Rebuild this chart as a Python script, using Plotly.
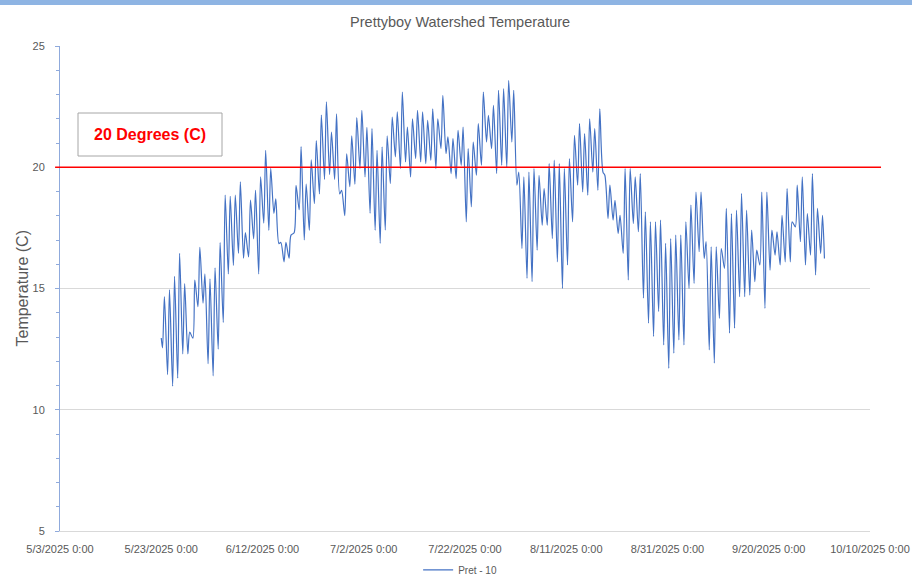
import pandas as pd
import plotly.graph_objects as go

# ---- data (daily minimum / maximum, deg C) ----
start_date = "2025-05-23"
first_value = 12.96
last_value = 16.24

daily_min = [
    12.55, 11.45, 10.97, 11.3, 12.3, 12.3, 12.95, 14.25, 14.4, 11.9,
    11.4, 12.5, 13.6, 15.6, 15.95, 16.45, 16.25, 16.3, 17.05, 15.6,
    17.7, 17.4, 18.1, 16.85, 16.1, 16.25, 17.3, 18.25, 17.0, 17.4,
    18.5, 18.9, 19.5, 19.7, 19.5, 18.9, 18.0, 19.2, 19.3, 19.95,
    19.6, 18.1, 17.4,
    16.86, 17.41, 19.33, 20.43, 19.95, 20.22, 19.6, 20.36, 20.22, 20.15,
    20.29, 19.95, 20.77, 20.56, 19.74, 19.53, 20.08, 17.75, 18.37, 19.67,
    20.08, 21.04, 20.77, 19.74, 20.08, 20.0, 21.04, 19.26, 16.65, 15.42,
    15.28, 16.58, 17.61, 17.61, 17.06, 16.1, 15.0, 15.97, 17.75, 19.26,
    18.98, 18.85, 19.8, 19.05,
    19.8, 17.89, 17.82, 17.27, 16.45, 15.35, 17.68, 17.34, 14.6, 13.57,
    13.02, 14.05, 12.67, 11.71, 12.33, 12.88, 12.67, 15.0, 15.21, 16.52,
    16.24, 12.47, 11.92, 13.77, 15.83, 13.16, 13.36, 14.66, 14.66, 14.73,
    15.28, 15.97, 14.18, 15.76, 16.38, 15.97, 16.1, 16.1, 17.54, 16.93,
    15.97, 16.38, 15.56, 16.45,
]

daily_max = [
    14.67, 14.95, 15.5, 16.45, 15.2, 13.2, 15.35, 16.7, 15.6, 15.4,
    15.85, 16.9, 18.85, 18.8, 18.85, 19.4, 17.3, 18.65, 19.05, 19.6,
    20.7, 19.95, 18.7, 16.9, 16.9, 17.2, 19.25, 20.85, 19.3, 20.3,
    21.1, 22.15, 22.7, 21.45, 22.2, 19.05, 20.55, 21.3, 22.05, 22.35,
    21.65, 21.6, 20.7,
    20.84, 21.3, 22.07, 22.28, 23.1, 21.66, 22.0, 22.35, 22.28, 21.93,
    22.41, 22.0, 22.96, 21.25, 21.18, 21.52, 21.66, 20.77, 21.04, 21.8,
    23.1, 22.14, 22.55, 23.17, 23.24, 23.58, 23.17, 19.8, 19.6, 19.8,
    19.95, 19.67, 19.12, 20.15, 20.29, 20.15, 19.95, 20.36, 21.32, 21.8,
    21.39, 22.0, 21.59, 22.41,
    19.67, 19.26, 18.64, 18.02, 19.95, 19.95, 19.6, 19.74, 18.16, 17.75,
    17.75, 17.82, 16.86, 17.06, 17.2, 17.2, 17.75, 18.44, 18.98, 18.98,
    16.93, 16.72, 16.72, 16.65, 18.3, 18.09, 18.23, 18.92, 18.23, 17.41,
    16.58, 18.98, 18.98, 17.41, 17.34, 18.02, 19.12, 17.75, 19.26, 19.6,
    18.09, 19.74, 18.3, 18.02,
]

threshold = 20
threshold_label = "20 Degrees (C)"
series_name = "Pret - 10"
title_text = "Prettyboy Watershed Temperature"
y_title = "Temperature (C)"
x_range = ["2025-05-03", "2025-10-10"]

# ---- build time series: morning minimum, afternoon maximum ----
days = pd.date_range(start_date, periods=len(daily_max), freq="D")
xs = [pd.Timestamp(start_date)]
ys = [first_value]
for d, lo, hi in zip(days, daily_min, daily_max):
    xs += [d + pd.Timedelta(hours=6), d + pd.Timedelta(hours=15)]
    ys += [lo, hi]
xs.append(days[-1] + pd.Timedelta(days=1))
ys.append(last_value)

GRAY = "#595959"
FONT = "Liberation Sans, Arial, sans-serif"

fig = go.Figure()
fig.add_trace(go.Scatter(
    x=xs, y=ys, mode="lines", name=series_name,
    line=dict(color="#4472C4", width=1.2, shape="spline", smoothing=0.8),
))

fig.update_layout(
    width=912, height=582,
    margin=dict(l=60, r=42, t=46, b=51, autoexpand=False),
    paper_bgcolor="white", plot_bgcolor="white",
    font=dict(family=FONT, color=GRAY, size=11),
    title=dict(text=title_text, x=0.494, xref="paper", xanchor="center",
               y=1 - 22 / 582, yref="container", yanchor="middle",
               font=dict(size=14.5, color=GRAY, family=FONT)),
    showlegend=True,
    legend=dict(orientation="h", x=0.494, xanchor="center", y=-0.08,
                yanchor="middle", font=dict(size=10, color=GRAY),
                itemwidth=30, bgcolor="rgba(0,0,0,0)"),
    xaxis=dict(type="date", range=x_range, tick0=x_range[0],
               dtick=20 * 86400000, tickformat="%-m/%-d/%Y %-H:%M",
               showgrid=False, showline=True, linecolor="#D9D9D9",
               ticks="outside", ticklen=8, tickcolor="rgba(0,0,0,0)",
               zeroline=False, automargin=False,
               tickfont=dict(size=11, color=GRAY)),
    yaxis=dict(range=[5, 25], dtick=5, showgrid=True, gridcolor="#D9D9D9",
               gridwidth=1, zeroline=False, showline=True,
               linecolor="#8FAADC", linewidth=1, ticks="outside",
               ticklen=4, tickcolor="#8FAADC", automargin=False,
               ticklabelstandoff=8,
               minor=dict(dtick=1, ticks="outside", ticklen=3,
                          tickcolor="#8FAADC", showgrid=False),
               tickfont=dict(size=11, color=GRAY)),
)

# top blue band
fig.add_shape(type="rect", xref="paper", yref="paper",
              x0=-0.08, x1=1.06, y0=(531 - 5) / 485, y1=(531 + 1) / 485,
              line=dict(width=0), fillcolor="#8EB4E3", layer="above")

# threshold line
fig.add_shape(type="line", xref="paper", yref="y", x0=-0.006, x1=1.0136,
              y0=threshold, y1=threshold, line=dict(color="#FF0000", width=1.5),
              layer="above")

# label box
fig.add_shape(type="rect", xref="paper", yref="paper",
              x0=(78 - 60) / 810, x1=(222 - 60) / 810,
              y0=(531 - 156) / 485, y1=(531 - 113) / 485,
              line=dict(color="#A6A6A6", width=1), fillcolor="white",
              layer="above")
fig.add_annotation(text="<b>" + threshold_label + "</b>", xref="paper", yref="paper",
                   x=(150 - 60) / 810, y=(531 - 134) / 485, showarrow=False,
                   xanchor="center", yanchor="middle",
                   font=dict(size=16, color="#FF0000", family=FONT))

# y axis title
fig.add_annotation(text=y_title, xref="paper", yref="paper",
                   x=(22 - 60) / 810, y=0.5, showarrow=False, textangle=-90,
                   xanchor="center", yanchor="middle",
                   font=dict(size=16, color=GRAY, family=FONT))

fig.write_html("out.html", config={"displayModeBar": False},
               post_script="document.body.style.margin='0';document.body.style.overflow='hidden';")
